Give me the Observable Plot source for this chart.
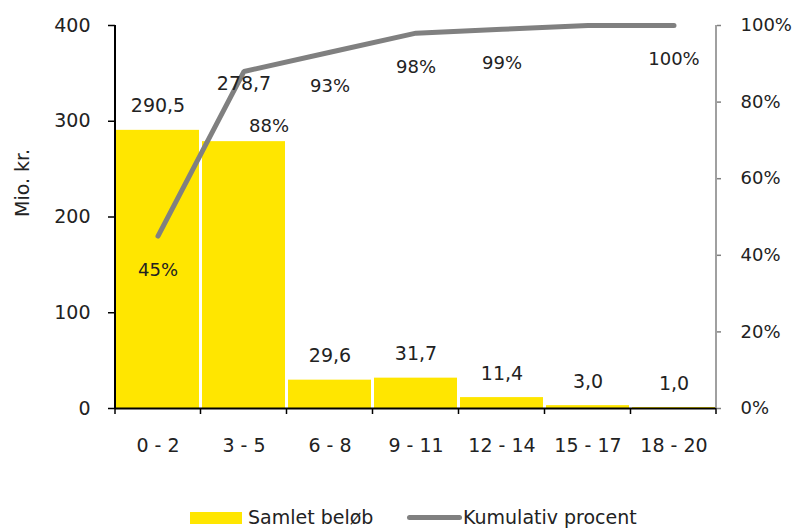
<!DOCTYPE html>
<html>
<head>
<meta charset="utf-8">
<script src="https://cdn.jsdelivr.net/npm/d3@7"></script>
<script src="https://cdn.jsdelivr.net/npm/@observablehq/plot@0.6"></script>
<style>
  html, body { margin: 0; padding: 0; background: #fff; }
  #wrap { width: 793px; font-family: "DejaVu Sans", sans-serif; color: #222; }
  #legend { position: relative; width: 793px; height: 39px; font-size: 19px; }
  #legend .sw { position: absolute; }
  #legend .lab { position: absolute; top: 16px; line-height: 22px; white-space: nowrap; }
</style>
</head>
<body>
<div id="wrap"></div>
<script>
const categories = ["0 - 2", "3 - 5", "6 - 8", "9 - 11", "12 - 14", "15 - 17", "18 - 20"];
const amounts = [290.5, 278.7, 29.6, 31.7, 11.4, 3.0, 1.0];
const amountLabels = ["290,5", "278,7", "29,6", "31,7", "11,4", "3,0", "1,0"];
const cumulativePct = [45, 88, 93, 98, 99, 100, 100];
const leftTicks = [0, 100, 200, 300, 400];
const rightTicks = [0, 20, 40, 60, 80, 100];
const seriesNames = ["Samlet beløb", "Kumulativ procent"];

const YELLOW = "#FFE600";
const GREY = "#808080";
const INK = "#222";
const pctToY = p => p * 4; // 100% maps to 400 on the left axis

const data = categories.map((c, i) => ({
  cat: c, amount: amounts[i], label: amountLabels[i], pct: cumulativePct[i], i
}));

const W = 793, H = 490, mL = 115, mR = 77, mT = 25, mB = 82;

// frame lines and x-axis boundary ticks
function frameLines(index, scales, values, dims) {
  const g = d3.create("svg:g");
  const y0 = scales.y(0), yTop = scales.y(400);
  const left = dims.marginLeft, right = dims.width - dims.marginRight;
  const xs = [left];
  for (let i = 1; i < categories.length; i++) xs.push(scales.x(categories[i]) - 1.5);
  xs.push(right);
  xs.forEach(x => g.append("line")
    .attr("x1", x).attr("x2", x).attr("y1", y0).attr("y2", y0 + 6)
    .attr("stroke", "black").attr("stroke-width", 1.5));
  g.append("line").attr("x1", right).attr("x2", right).attr("y1", yTop).attr("y2", y0)
    .attr("stroke", GREY).attr("stroke-width", 1.5);
  g.append("line").attr("x1", left).attr("x2", left).attr("y1", yTop).attr("y2", y0 + 1)
    .attr("stroke", "black").attr("stroke-width", 2);
  return g.node();
}

const chart = Plot.plot({
  width: W, height: H,
  marginLeft: mL, marginRight: mR, marginTop: mT, marginBottom: mB,
  style: { fontFamily: "DejaVu Sans, sans-serif", fontSize: "19px", color: INK, background: "white", overflow: "visible" },
  x: { type: "band", domain: categories, paddingInner: 0.035, paddingOuter: 0, axis: null },
  y: { domain: [0, 400], axis: null },
  marks: [
    Plot.barY(data, { x: "cat", y: "amount", fill: YELLOW }),
    Plot.ruleY([0], { stroke: "black", strokeWidth: 2 }),
    Plot.line(data, { x: "cat", y: d => pctToY(d.pct), stroke: GREY, strokeWidth: 5, strokeLinejoin: "miter" }),
    frameLines,
    Plot.axisY(leftTicks, { anchor: "left", tickSize: 7, tickPadding: 18, stroke: "black", strokeWidth: 1.5, fill: INK, label: null, fontSize: 19 }),
    Plot.axisY(rightTicks.map(pctToY), { anchor: "right", tickSize: 4, tickPadding: 20, stroke: GREY, strokeWidth: 1.5, fill: INK, label: null, fontSize: 18, tickFormat: d => (d / 4) + "%" }),
    Plot.axisX({ tickSize: 0, tickPadding: 30, fill: INK, label: null, fontSize: 19 }),
    // bar value labels
    Plot.text(data.filter(d => d.i !== 1), { x: "cat", y: "amount", text: "label", dy: -24, fill: INK, fontSize: 19 }),
    Plot.text(data.filter(d => d.i === 1), { x: "cat", y: "amount", text: "label", dy: -58, fill: INK, fontSize: 19 }),
    // cumulative percent labels
    Plot.text(data.filter(d => d.i !== 1 && d.i !== 5), { x: "cat", y: d => pctToY(d.pct), text: d => d.pct + "%", dy: 34, fill: INK, fontSize: 18 }),
    Plot.text(data.filter(d => d.i === 1), { x: "cat", y: d => pctToY(d.pct), text: d => d.pct + "%", dx: 25, dy: 55, fill: INK, fontSize: 18 }),
    // y axis title
    Plot.text(["Mio. kr."], { frameAnchor: "left", text: d => d, rotate: -90, dx: -93, fill: INK, fontSize: 19 })
  ]
});

const wrap = document.getElementById("wrap");
wrap.appendChild(chart);

const legend = document.createElement("div");
legend.id = "legend";
legend.innerHTML = `
  <div class="sw" style="left:190px; top:22px; width:52px; height:12px; background:${YELLOW};"></div>
  <div class="lab" style="left:248px;">${seriesNames[0]}</div>
  <div class="sw" style="left:407px; top:25px; width:55px; height:5px; border-radius:3px; background:${GREY};"></div>
  <div class="lab" style="left:463px;">${seriesNames[1]}</div>
`;
wrap.appendChild(legend);
</script>
</body>
</html>
